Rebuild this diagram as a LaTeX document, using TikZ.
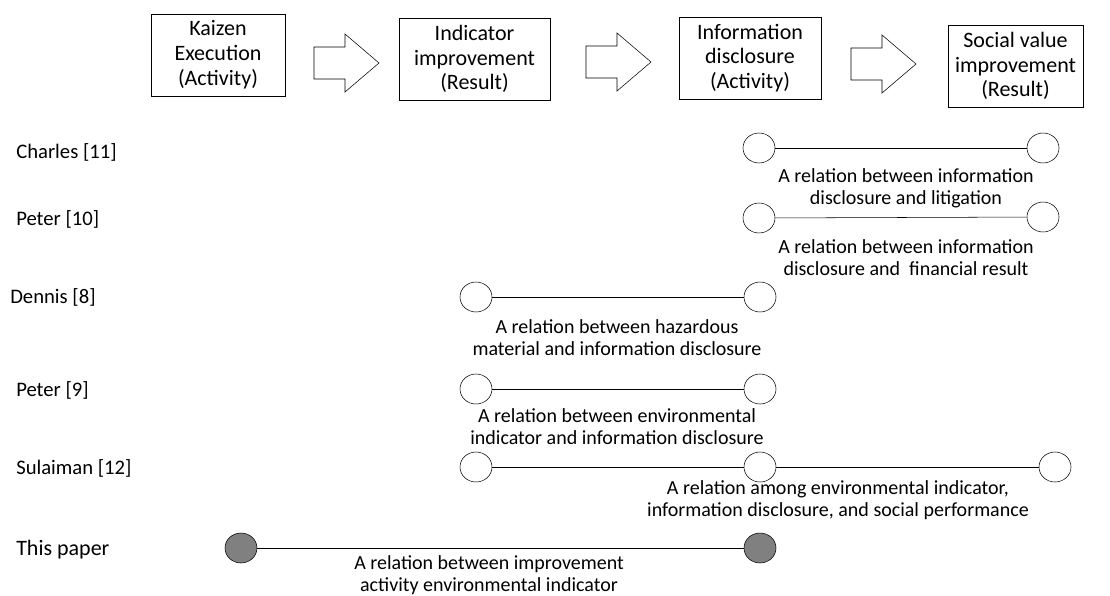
\documentclass[tikz,border=0pt]{standalone}
\usepackage{fontspec}
\setmainfont{Carlito}
\usetikzlibrary{shapes.geometric}

% block arrow between two boxes
\newcommand{\fatarrow}[1]{%
  \draw (#1) ++(0,-16) -- ++(31,0) -- ++(0,-13) -- ++(34,29) -- ++(-34,29)
    -- ++(0,-13) -- ++(-31,0) -- cycle;}

\begin{document}
\begin{tikzpicture}[
    x=0.75pt,y=-0.75pt,
    box/.style={draw, align=center, inner sep=0pt, minimum height=61.5pt,
      font=\fontsize{16.5}{18.6}\selectfont},
    dot/.style={draw, ellipse, minimum width=24pt, minimum height=22.5pt, inner sep=0pt},
    fulldot/.style={dot, fill=gray},
    who/.style={anchor=west, inner sep=0pt, font=\fontsize{15.5}{18}\selectfont},
    rel/.style={align=center, inner sep=0pt, font=\fontsize{15}{16.5}\selectfont}
    ]
    \useasboundingbox (0,0) rectangle (1110,596);

    % process chain
    \node[box, minimum width=100.5pt] (kaizen) at (218,55) {Kaizen\\Execution\\(Activity)};
    \node[box, minimum width=113pt] (indic) at (474.5,59) {Indicator\\improvement\\(Result)};
    \node[box, minimum width=106.5pt] (disc) at (750,58) {Information\\disclosure\\(Activity)};
    \node[box, minimum width=101pt] (social) at (1015.5,66) {Social value\\improvement\\(Result)};
    \fatarrow{314,63}
    \fatarrow{586,62}
    \fatarrow{851,64}

    % Charles [11]
    \node[who] (charles) at (16,152) {Charles [11]};
    \node[dot] (ch1) at (759,148) {};
    \node[dot] (ch2) at (1043,148) {};
    \draw (ch1) -- (ch2);
    \node[rel] (chrel) at (906,188.5) {A relation between information\\disclosure and litigation};

    % Peter [10]
    \node[who] (peterA) at (16,219) {Peter [10]};
    \node[dot] (pa1) at (759,218) {};
    \node[dot] (pa2) at (1043,217) {};
    \draw (pa1) -- (pa2);
    \node[rel] (parel) at (906,258) {A relation between information\\disclosure and~~financial result};

    % Dennis [8]
    \node[who] (dennis) at (10,297) {Dennis [8]};
    \node[dot] (de1) at (476,297) {};
    \node[dot] (de2) at (760,297) {};
    \draw (de1) -- (de2);
    \node[rel] (derel) at (617,337.5) {A relation between hazardous\\material and information disclosure};

    % Peter [9]
    \node[who] (peterB) at (16,390) {Peter [9]};
    \node[dot] (pb1) at (476,389) {};
    \node[dot] (pb2) at (760,389) {};
    \draw (pb1) -- (pb2);
    \node[rel] (pbrel) at (617,427) {A relation between environmental\\indicator and information disclosure};

    % Sulaiman [12]
    \node[who] (sulaiman) at (16,468) {Sulaiman [12]};
    \node[dot] (su1) at (476,467) {};
    \node[dot] (su2) at (760,467) {};
    \node[dot] (su3) at (1055,467) {};
    \draw (su1) -- (su2) -- (su3);
    \node[rel] (surel) at (838,500.5) {A relation among environmental indicator,\\information disclosure, and social performance};

    % This paper
    \node[who, font=\fontsize{16.5}{20}\selectfont] (ours) at (16,550) {This paper};
    \node[fulldot] (ou1) at (241,548) {};
    \node[fulldot] (ou2) at (760,548) {};
    \draw (ou1) -- (ou2);
    \node[rel] (ourel) at (489,575) {A relation between improvement\\activity environmental indicator};
  \end{tikzpicture}
\end{document}
